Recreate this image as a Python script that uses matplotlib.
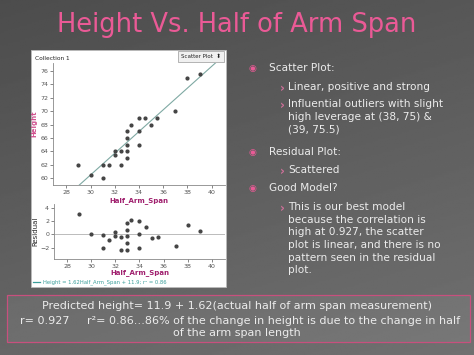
import matplotlib
matplotlib.use("Agg")
import matplotlib.pyplot as plt
import numpy as np
from matplotlib.patches import Rectangle

# data
half_arm_span = [29, 30, 31, 31, 31.5, 32, 32, 32.5, 32.5, 33, 33, 33, 33, 33,
                 33.3, 34, 34, 34, 34.5, 35, 35.5, 37, 38, 39]
height = [62, 60.5, 62, 60, 62, 64, 63.5, 64, 62, 67, 66, 65, 64, 63,
          68, 69, 67, 65, 69, 68, 69, 70, 75, 75.5]
residual = [3.1, 0.1, -0.1, -2.1, -0.9, 0.3, -0.2, -0.4, -2.4, 1.7, 0.7, -0.3, -1.3, -2.3,
            2.2, 2.0, 0.0, -2.0, 1.2, -0.6, -0.4, -1.8, 1.5, 0.6]
slope, intercept, r2 = 1.62, 11.9, 0.86
x_ticks = [28, 30, 32, 34, 36, 38, 40]
y_ticks = [60, 62, 64, 66, 68, 70, 72, 74, 76]
res_ticks = [-2, 0, 2, 4]

W, H = 474, 355
PINK = "#ea5a96"
TEXT = "#ececec"


def box(x0, y0, x1, y1):
    # pixel box (top-left origin) -> figure fraction rect
    return [x0 / W, 1 - y1 / H, (x1 - x0) / W, (y1 - y0) / H]


def ftext(x, y, s, **kw):
    fig.text(x / W, 1 - y / H, s, **kw)


fig = plt.figure(figsize=(W / 100, H / 100), dpi=100)

# slide background
bg = fig.add_axes([0, 0, 1, 1])
yy, xx = np.mgrid[0:1:200j, 0:1:200j]
grad = 0.30 + 0.10 * yy + 0.04 * xx
bg.imshow(grad, cmap="gray", vmin=0, vmax=1, aspect="auto", extent=[0, 1, 0, 1], origin="upper")
bg.set_xlim(0, 1)
bg.set_ylim(0, 1)
bg.axis("off")

ftext(237, 25, "Height Vs. Half of Arm Span", color=PINK, fontsize=18.5,
      ha="center", va="center", family="DejaVu Sans")

# white Fathom panel
bg.add_patch(Rectangle((31 / W, 1 - 287 / H), 195 / W, 237 / H, transform=bg.transAxes,
                       facecolor="white", edgecolor="#bbbbbb", lw=0.6))
ftext(35, 58, "Collection 1", fontsize=4.2, color="#222222", va="center")
bg.add_patch(Rectangle((178 / W, 1 - 62 / H), 46 / W, 11 / H, transform=bg.transAxes,
                       facecolor="#f0f0f0", edgecolor="#999999", lw=0.5))
ftext(181, 56.5, "Scatter Plot  ⬍", fontsize=4, color="#222222", va="center")


def style_axes(ax):
    for s in ["top", "right"]:
        ax.spines[s].set_visible(False)
    for s in ["left", "bottom"]:
        ax.spines[s].set_color("#888888")
        ax.spines[s].set_linewidth(0.6)
    ax.tick_params(labelsize=4.5, colors="#555555", length=2, width=0.5, pad=1.5)
    ax.patch.set_visible(False)


# scatter plot
ax = fig.add_axes(box(53, 63, 225, 185))
ax.scatter(half_arm_span, height, s=4, color="#444444", zorder=3)
xl = np.array([26.9, 41.1])
ax.plot(xl, slope * xl + intercept, color="#7fa9a3", lw=0.8)
ax.set_xlim(26.9, 41.1)
ax.set_ylim(59, 77.2)
ax.set_xticks(x_ticks)
ax.set_yticks(y_ticks)
style_axes(ax)
ax.set_xlabel("Half_Arm_Span", fontsize=5, color="#a0206e", fontweight="bold", labelpad=1.5)
ax.set_ylabel("Height", fontsize=5, color="#d0508e", fontweight="bold", labelpad=2)

# residual plot
ax2 = fig.add_axes(box(54, 204, 225, 259))
ax2.axhline(0, color="#bbbbbb", lw=0.7)
ax2.scatter(half_arm_span, residual, s=4, color="#444444", zorder=3)
ax2.set_xlim(26.9, 41.1)
ax2.set_ylim(-3.7, 4.6)
ax2.set_xticks(x_ticks)
ax2.set_yticks(res_ticks)
style_axes(ax2)
ax2.set_xlabel("Half_Arm_Span", fontsize=5, color="#a0206e", fontweight="bold", labelpad=0.5)
ax2.set_ylabel("Residual", fontsize=5, color="#222222", labelpad=1)

bg.plot([33 / W, 40 / W], [1 - 282 / H] * 2, color="#3a9e9a", lw=0.9)
ftext(43, 282.5, f"Height = {slope}Half_Arm_Span + {intercept}; r² = {r2}",
      fontsize=3.8, color="#3a9e9a", va="center")

# bullet text on the right
FS = 7.6
bullets = [
    (252, 269, 69, "◉", "Scatter Plot:"),
    (282, 288, 88, "›", "Linear, positive and strong"),
    (282, 288, 105, "›", "Influential outliers with slight\nhigh leverage at (38, 75) &\n(39, 75.5)"),
    (252, 269, 153, "◉", "Residual Plot:"),
    (282, 288, 171, "›", "Scattered"),
    (252, 269, 189, "◉", "Good Model?"),
    (282, 288, 208, "›", "This is our best model\nbecause the correlation is\nhigh at 0.927, the scatter\n"
                         "plot is linear, and there is no\npattern seen in the residual\nplot."),
]
for bx, tx, ty, sym, s in bullets:
    big = sym == "◉"
    ftext(bx, ty, sym, fontsize=6.5 if big else 8.5, color=PINK if big else "#d0709a",
          va="center", ha="center", fontweight="normal" if big else "bold")
    ftext(tx, ty - 6, s, fontsize=FS, color=TEXT, va="top", linespacing=1.33)

# bottom summary box
bg.add_patch(Rectangle((7 / W, 1 - 342 / H), 463 / W, 47 / H, transform=bg.transAxes,
                       facecolor="#ffffff", alpha=0.06, edgecolor="none"))
bg.add_patch(Rectangle((7 / W, 1 - 342 / H), 463 / W, 47 / H, transform=bg.transAxes,
                       facecolor="none", edgecolor="#c8507e", lw=0.9))
ftext(237, 306, "Predicted height= 11.9 + 1.62(actual half of arm span measurement)",
      fontsize=8.0, color=TEXT, ha="center", va="center")
ftext(240, 320.5, "r= 0.927     r²= 0.86…86% of the change in height is due to the change in half",
      fontsize=8.0, color=TEXT, ha="center", va="center")
ftext(237, 333.5, "of the arm span length", fontsize=8.0, color=TEXT, ha="center", va="center")

fig.savefig("out.png", dpi=100)
